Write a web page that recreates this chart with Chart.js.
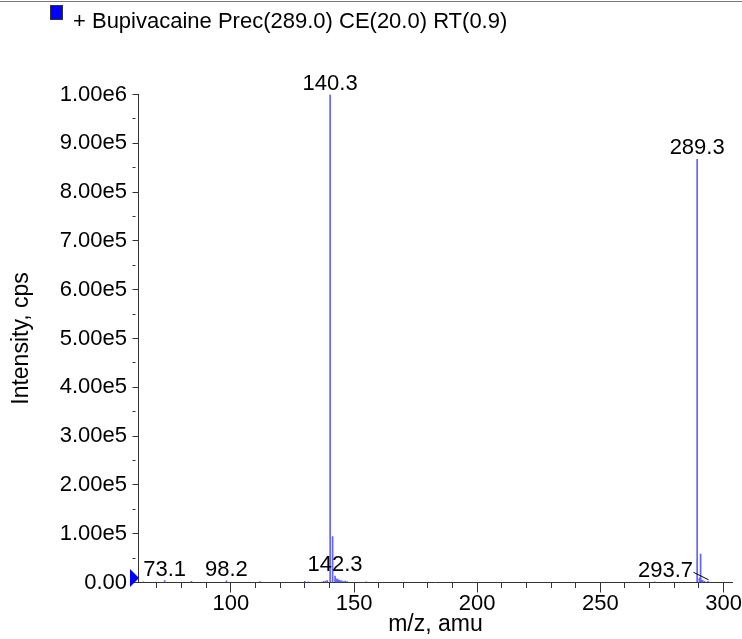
<!DOCTYPE html>
<html><head><meta charset="utf-8">
<script src="https://cdn.jsdelivr.net/npm/chart.js@4.4.1/dist/chart.umd.min.js"></script>
<style>html,body{margin:0;padding:0;background:#fff;}canvas{display:block;}</style>
</head><body>
<canvas id="c" width="742" height="639"></canvas>
<script>
const legendText = '+ Bupivacaine Prec(289.0) CE(20.0) RT(0.9)';
const xTitle = 'm/z, amu';
const yTitle = 'Intensity, cps';

const mz = [64.5, 73.1, 84.0, 98.2, 111.8, 130.0, 131.5, 137.6, 138.4, 139.1,
  140.3, 141.3, 142.3, 142.6, 143.0, 143.3, 143.7, 144.1, 144.6, 145.1, 145.7, 146.4, 147.2, 155.0,
  272.0, 289.3, 290.2, 290.7, 291.2, 291.6, 292.3, 293.7];
const intensity = [1500, 4000, 2500, 3500, 2000, 2500, 1500, 2500, 3000, 4000,
  1000000, 94000, 13000, 8000, 6000, 7000, 4500, 5000, 3000, 3500, 2000, 3000, 2000, 1500,
  1500, 867000, 9000, 58000, 5000, 4000, 2500, 2500];

const peakLabelMz = [73.1, 98.2, 140.3, 142.3, 289.3, 293.7];
const peakLabels = ['73.1', '98.2', '140.3', '142.3', '289.3', '293.7'];

const xMin = 62.5, xMax = 303.6, yMin = 0, yMax = 1000000;

const FONT = "'Liberation Sans', Arial, Helvetica, sans-serif";

function nearestIndex(v) {
  let best = 0;
  for (let i = 1; i < mz.length; i++) if (Math.abs(mz[i] - v) < Math.abs(mz[best] - v)) best = i;
  return best;
}

const decorPlugin = {
  id: 'decor',
  afterDraw(chart) {
    const ctx = chart.ctx;
    const xs = chart.scales.x, ys = chart.scales.y;
    ctx.save();
    ctx.strokeStyle = '#777';
    ctx.lineWidth = 1;
    ctx.beginPath(); ctx.moveTo(0, 1.5); ctx.lineTo(chart.width, 1.5); ctx.stroke();
    ctx.fillStyle = '#0000ff';
    ctx.fillRect(50, 5, 13, 15);
    ctx.strokeStyle = '#333';
    ctx.strokeRect(50.5, 5.5, 12, 14);
    ctx.fillStyle = '#000';
    ctx.font = '22px ' + FONT;
    ctx.textAlign = 'left';
    ctx.textBaseline = 'alphabetic';
    ctx.fillText(legendText, 73, 28);
    const x0 = xs.getPixelForValue(xMin), y0 = ys.getPixelForValue(0) - 4.5;
    ctx.fillStyle = '#0000ff';
    ctx.beginPath();
    ctx.moveTo(x0 + 0.5, y0);
    ctx.lineTo(x0 - 8.5, y0 - 9);
    ctx.lineTo(x0 - 8.5, y0 + 9);
    ctx.closePath();
    ctx.fill();
    ctx.fillStyle = '#000';
    ctx.font = '22px ' + FONT;
    for (let i = 0; i < peakLabels.length; i++) {
      const idx = nearestIndex(peakLabelMz[i]);
      const px = xs.getPixelForValue(peakLabelMz[i]);
      const py = ys.getPixelForValue(intensity[idx]);
      if (peakLabels[i] === '293.7') {
        ctx.textAlign = 'right';
        ctx.fillText(peakLabels[i], px - 15, py - 4.5);
        ctx.strokeStyle = '#000';
        ctx.beginPath();
        ctx.moveTo(px - 14.5, py - 9);
        ctx.lineTo(px + 0.5, py - 1.5);
        ctx.stroke();
      } else {
        ctx.textAlign = 'center';
        ctx.fillText(peakLabels[i], px, py - 5);
      }
    }
    ctx.restore();
  }
};

new Chart(document.getElementById('c'), {
  type: 'bar',
  data: {
    datasets: [{
      data: mz.map((m, i) => ({x: m, y: intensity[i]})),
      backgroundColor: '#6262ff',
      borderWidth: 0,
      barThickness: 1,
      grouped: false
    }]
  },
  options: {
    responsive: false,
    devicePixelRatio: 1,
    animation: false,
    layout: {padding: {left: 0, top: 94.5, right: 9, bottom: 0}},
    plugins: {legend: {display: false}, tooltip: {enabled: false}},
    scales: {
      x: {
        type: 'linear',
        min: xMin, max: xMax,
        offset: false,
        grid: {display: true, drawOnChartArea: false, offset: false, color: '#333', tickLength: 10,
          tickBorderDash: (c) => (c.tick && c.tick.value % 50 === 0) ? [] : [5, 100]},
        border: {display: true, color: '#333', width: 1},
        ticks: {
          stepSize: 10, includeBounds: false, autoSkip: false, maxRotation: 0, padding: 0,
          color: '#000', font: {family: FONT, size: 22, lineHeight: 1},
          callback: (v) => (v % 50 === 0 ? String(v) : '')
        },
        title: {display: true, text: xTitle, color: '#000', font: {family: FONT, size: 23, lineHeight: 1}, padding: {top: 0, bottom: 2.5}},
        afterFit: (s) => { s.height = 56.5; }
      },
      y: {
        type: 'linear',
        min: yMin, max: yMax,
        grid: {display: true, drawOnChartArea: false, color: '#333', tickLength: 6,
          tickBorderDash: (c) => (c.tick && c.tick.value % 100000 === 0) ? [] : [3, 100]},
        border: {display: true, color: '#333', width: 1},
        ticks: {
          stepSize: 50000, includeBounds: false, autoSkip: false, padding: 5.5,
          color: '#000', font: {family: FONT, size: 22, lineHeight: 1},
          callback: (v) => {
            if (v % 100000 !== 0) return '';
            if (v === 0) return '0.00';
            return v.toExponential(2).replace('e+', 'e');
          }
        },
        title: {display: true, text: yTitle, color: '#000', font: {family: FONT, size: 23, lineHeight: 1}, padding: {top: 10.5, bottom: 0}},
        afterFit: (s) => { s.width = 138.5; }
      }
    }
  },
  plugins: [decorPlugin]
});
</script>
</body></html>
